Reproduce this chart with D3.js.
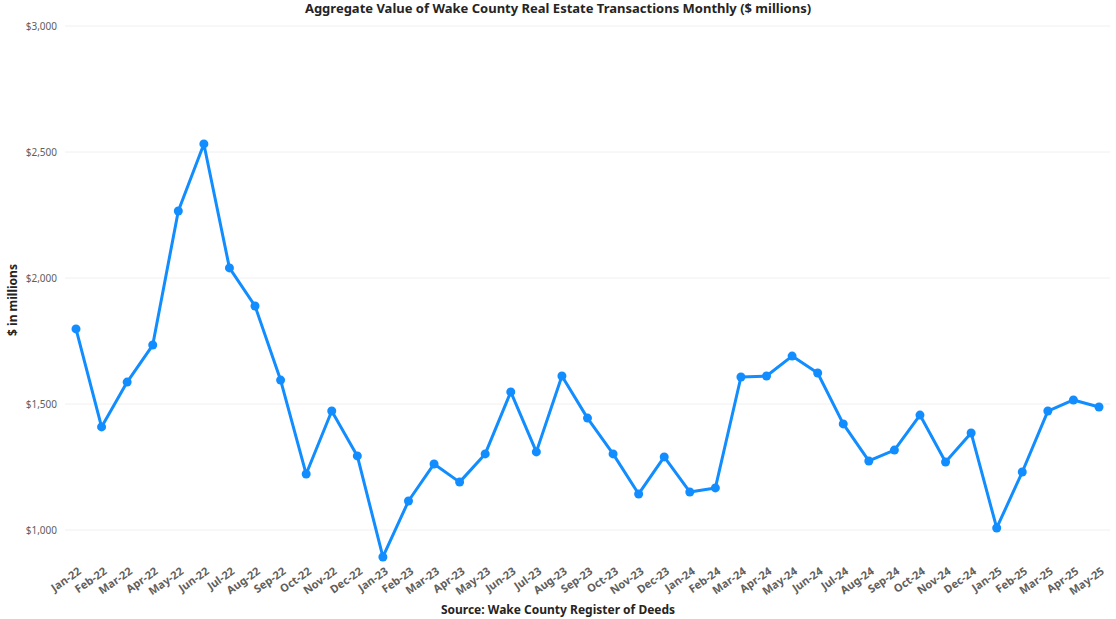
<!DOCTYPE html>
<html><head><meta charset="utf-8">
<script src="https://cdn.jsdelivr.net/npm/d3@7"></script>
<style>body{margin:0;background:#fff;font-family:"Noto Sans","DejaVu Sans",sans-serif}</style>
</head><body>
<script>
var w = 1116, h = 619;
var months = ["Jan-22","Feb-22","Mar-22","Apr-22","May-22","Jun-22","Jul-22","Aug-22","Sep-22","Oct-22","Nov-22","Dec-22",
  "Jan-23","Feb-23","Mar-23","Apr-23","May-23","Jun-23","Jul-23","Aug-23","Sep-23","Oct-23","Nov-23","Dec-23",
  "Jan-24","Feb-24","Mar-24","Apr-24","May-24","Jun-24","Jul-24","Aug-24","Sep-24","Oct-24","Nov-24","Dec-24",
  "Jan-25","Feb-25","Mar-25","Apr-25","May-25"];
var values = [1798,1409,1587,1734,2266,2532,2040,1889,1595,1222,1472,1294,
  893,1115,1262,1190,1302,1548,1310,1611,1444,1302,1143,1290,
  1151,1167,1607,1611,1690,1623,1421,1274,1317,1456,1270,1385,
  1008,1230,1472,1516,1488];
var yTicks = [1000,1500,2000,2500,3000];

var svg = d3.select("body").append("svg").attr("width",w).attr("height",h);

var x = d3.scalePoint().domain(months).range([76,1099]);
var y = d3.scaleLinear().domain([1000,3000]).range([530,26]);

svg.append("g").selectAll("line").data(yTicks).enter().append("line")
  .attr("x1",65).attr("x2",1110)
  .attr("y1",function(d){return y(d);}).attr("y2",function(d){return y(d);})
  .attr("stroke","#f0f0f0").attr("stroke-width",1);
svg.append("g").selectAll("text").data(yTicks).enter().append("text")
  .attr("x",57).attr("y",function(d){return y(d)+4;})
  .attr("text-anchor","end").attr("font-size",10).attr("fill","#605e5c")
  .text(function(d){return "$"+d3.format(",")(d);});

svg.append("g").selectAll("text").data(months).enter().append("text")
  .attr("transform",function(d){return "translate("+(x(d)+6)+",573) rotate(-35)";})
  .attr("text-anchor","end").attr("font-size",11).attr("font-weight","bold").attr("fill","#605e5c")
  .text(function(d){return d;});

var line = d3.line().x(function(d,i){return x(months[i]);}).y(function(d){return y(d);});
svg.append("path").datum(values).attr("d",line)
  .attr("fill","none").attr("stroke","#118dff").attr("stroke-width",3).attr("stroke-linejoin","round");
svg.append("g").selectAll("circle").data(values).enter().append("circle")
  .attr("cx",function(d,i){return x(months[i]);}).attr("cy",function(d){return y(d);})
  .attr("r",4.5).attr("fill","#118dff");

svg.append("text").attr("x",558).attr("y",13).attr("text-anchor","middle")
  .attr("font-size",13).attr("font-weight","bold").attr("fill","#252423")
  .text("Aggregate Value of Wake County Real Estate Transactions Monthly ($ millions)");
svg.append("text").attr("x",558).attr("y",614).attr("text-anchor","middle")
  .attr("font-size",12).attr("font-weight","bold").attr("fill","#252423")
  .text("Source: Wake County Register of Deeds");
svg.append("text").attr("transform","translate(17,300) rotate(-90)").attr("text-anchor","middle")
  .attr("font-size",12).attr("font-weight","bold").attr("fill","#252423")
  .text("$ in millions");
</script>
</body></html>
